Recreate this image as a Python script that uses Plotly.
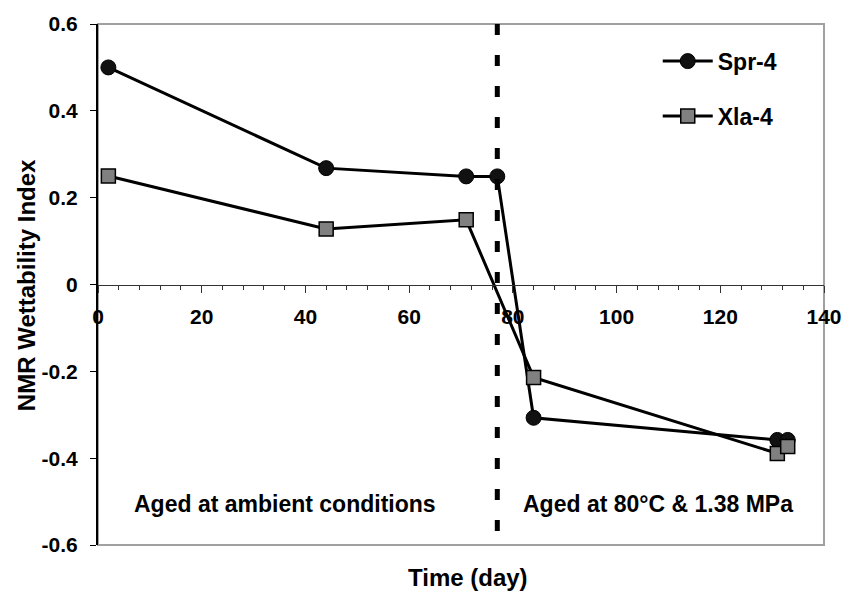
import plotly.graph_objects as go

# Data
spr_x = [2, 44, 71, 77, 84, 131, 133]
spr_y = [0.50, 0.268, 0.249, 0.249, -0.307, -0.358, -0.358]
xla_x = [2, 44, 71, 84, 131, 133]
xla_y = [0.25, 0.128, 0.149, -0.214, -0.389, -0.373]

divider_day = 77
x_ticks = [0, 20, 40, 60, 80, 100, 120, 140]
y_ticks = [-0.6, -0.4, -0.2, 0, 0.2, 0.4, 0.6]
y_tick_text = ["-0.6", "-0.4", "-0.2", "0", "0.2", "0.4", "0.6"]

FONT = "Arial, 'Liberation Sans', sans-serif"

fig = go.Figure()
fig.add_trace(go.Scatter(
    x=spr_x, y=spr_y, name="Spr-4", mode="lines+markers", legendgroup="a",
    line=dict(color="black", width=3),
    marker=dict(symbol="circle", size=15, color="#111111", line=dict(color="black", width=1)),
))
fig.add_trace(go.Scatter(
    x=xla_x, y=xla_y, name="Xla-4", mode="lines+markers", legendgroup="b",
    line=dict(color="black", width=3),
    marker=dict(symbol="square", size=14, color="#808080", line=dict(color="black", width=1.5)),
))

# frame
fig.add_shape(type="rect", xref="paper", yref="paper", x0=0, x1=1, y0=0, y1=1,
              line=dict(color="#a0a0a0", width=2), layer="below")
# divider
fig.add_shape(type="line", x0=divider_day, x1=divider_day, y0=0.6, y1=-0.6,
              line=dict(color="black", width=5, dash="11px,20px"))

fig.add_annotation(x=36.1, y=-0.506, text="Aged at ambient conditions", showarrow=False,
                   font=dict(family=FONT, size=23, color="black", weight="bold"))
fig.add_annotation(x=107.9, y=-0.506, text="Aged at 80°C & 1.38 MPa", showarrow=False,
                   font=dict(family=FONT, size=23, color="black", weight="bold"))
fig.add_annotation(xref="paper", yref="paper", x=0.509, y=-0.063, yanchor="middle",
                   text="Time (day)", showarrow=False,
                   font=dict(family=FONT, size=24, color="black", weight="bold"))
fig.add_annotation(xref="paper", yref="paper", x=-0.099, y=0.499, xanchor="center",
                   text="NMR Wettability Index", textangle=-90, showarrow=False,
                   font=dict(family=FONT, size=24, color="black", weight="bold"))

fig.update_layout(
    width=854, height=595,
    margin=dict(l=98, r=20, t=15, b=50),
    plot_bgcolor="white", paper_bgcolor="white",
    showlegend=True,
    legend=dict(x=0.771, y=0.97, xanchor="left", yanchor="top",
                bgcolor="rgba(0,0,0,0)", tracegroupgap=22, itemwidth=50,
                font=dict(family=FONT, size=23, color="black", weight="bold")),
    xaxis=dict(range=[0, 140], anchor="free", position=0.5,
               tickvals=x_ticks, ticks="outside", ticklen=7, tickwidth=1, tickcolor="#333",
               showline=True, linecolor="#333", linewidth=1,
               showgrid=False, zeroline=False, ticklabelstandoff=6,
               minor=dict(dtick=4, ticks="outside", ticklen=4, tickcolor="#333", showgrid=False),
               tickfont=dict(family=FONT, size=21, color="black", weight="bold")),
    yaxis=dict(range=[-0.6, 0.6], tickvals=y_ticks, ticktext=y_tick_text,
               ticks="outside", ticklen=6, tickwidth=1, tickcolor="black",
               showline=True, linecolor="black", linewidth=2,
               showgrid=False, zeroline=False, ticklabelstandoff=8,
               tickfont=dict(family=FONT, size=21, color="black", weight="bold")),
)

fig.write_html("out.html")
